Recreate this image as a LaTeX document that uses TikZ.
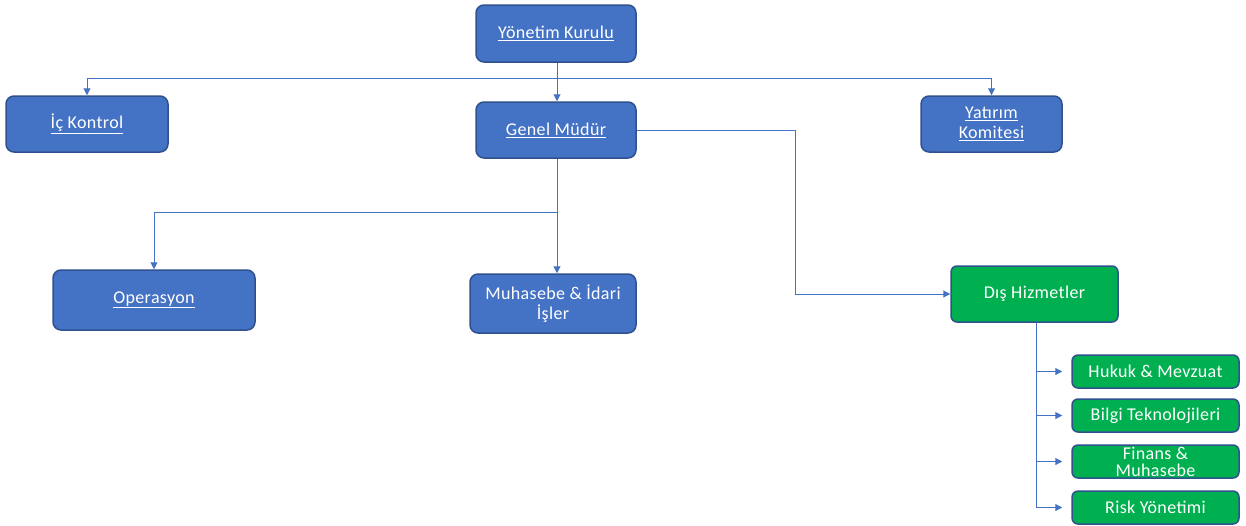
\documentclass[tikz,border=0pt]{standalone}
\usepackage{fontspec}
\setmainfont{Carlito}[LetterSpace=2]
\usetikzlibrary{arrows.meta}
\definecolor{bfill}{HTML}{4472C4}
\definecolor{bline}{HTML}{2F528F}
\definecolor{gfill}{HTML}{00B050}
\definecolor{conncol}{HTML}{4472C4}
\tikzset{
  box/.style={draw=bline, line width=1.5pt, rounded corners=8pt, text=white, align=center, inner sep=0pt, font=\fontsize{18}{19}\selectfont},
  bluebox/.style={box, fill=bfill},
  greenbox/.style={box, fill=gfill, rounded corners=6pt},
  conn/.style={draw=conncol, line width=1pt},
  arr/.style={conn, -{Triangle[length=7pt,width=7pt]}}
}
\begin{document}
\begin{tikzpicture}[x=1pt,y=-1pt]
\useasboundingbox (0,0) rectangle (1246,525);
% main boxes
\node[bluebox, minimum width=160, minimum height=57] (yk) at (556,33.5) {\underline{Yönetim Kurulu}};
\node[bluebox, minimum width=162, minimum height=56] (ic) at (87,124) {\underline{İç Kontrol}};
\node[bluebox, minimum width=160, minimum height=56] (gm) at (556,130) {\underline{Genel Müdür}};
\node[bluebox, minimum width=141, minimum height=56] (yt) at (991.5,124) {\underline{Yatırım}\\[1pt]\underline{Komitesi}};
\node[bluebox, minimum width=202, minimum height=60] (op) at (154,300) {\underline{Operasyon}};
\node[bluebox, minimum width=166, minimum height=59] (mu) at (553,303.5) {Muhasebe \& İdari\\[1pt]İşler};
\node[greenbox, minimum width=167, minimum height=56] (dh) at (1034.5,294) {Dış Hizmetler};
% children
\node[greenbox, minimum width=167, minimum height=33] (hk) at (1155.5,371.5) {Hukuk \& Mevzuat};
\node[greenbox, minimum width=167, minimum height=33] (bt) at (1155.5,415.5) {Bilgi Teknolojileri};
\node[greenbox, minimum width=167, minimum height=33, font=\fontsize{18}{17}\selectfont] (fm) at (1155.5,461.5) {Finans \&\\Muhasebe};
\node[greenbox, minimum width=167, minimum height=33] (rk) at (1155.5,507.5) {Risk Yönetimi};
% connectors from Yönetim Kurulu
\coordinate (j1) at (557,78);
\draw[conn] (yk.south -| j1) -- (j1);
\draw[arr] (j1) -| (ic.north);
\draw[arr] (j1) -| (yt.north);
\draw[arr] (j1) -- (j1 |- gm.north);
% Genel Müdür connectors
\coordinate (j2) at (557,212);
\draw[conn] (gm.south -| j2) -- (j2);
\draw[arr] (j2) -| (op.north);
\draw[arr] (j2) -- (j2 |- mu.north);
\coordinate (j3) at (795,130);
\draw[arr] (gm.east) -- (j3) |- (dh.west);
% Dış Hizmetler children
\coordinate (v) at (1036,322);
\coordinate (vb) at (1036,507.5);
\draw[conn] (v) -- (vb);
\draw[arr] (v |- hk.west) -- ([xshift=-9]hk.west);
\draw[arr] (v |- bt.west) -- ([xshift=-9]bt.west);
\draw[arr] (v |- fm.west) -- ([xshift=-9]fm.west);
\draw[arr] (vb) -- ([xshift=-9]rk.west);
\end{tikzpicture}
\end{document}
